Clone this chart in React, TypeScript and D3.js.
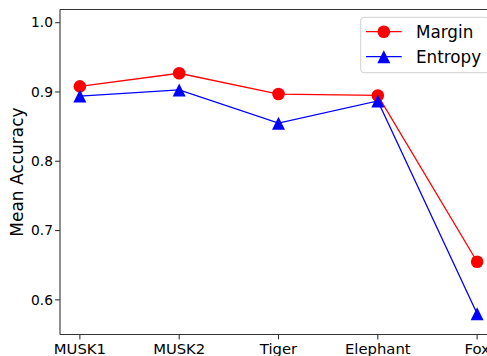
import React from "react";
import * as d3 from "d3";

const categories = ["MUSK1", "MUSK2", "Tiger", "Elephant", "Fox"];
const marginAcc = [0.908, 0.927, 0.897, 0.895, 0.655];
const entropyAcc = [0.894, 0.903, 0.855, 0.887, 0.58];
const yTicks = [0.6, 0.7, 0.8, 0.9, 1.0];

const W = 487;
const H = 356;
const FONT = "DejaVu Sans, sans-serif";

export default function App() {
  const left = 60;
  const top = 9.5;
  const bottom = 334.5;
  var x = d3.scaleLinear().domain([-0.2, 4.2]).range([left, 497]);
  var y = d3.scaleLinear().domain([0.55, 1.019]).range([bottom, top]);

  var line = d3
    .line<number>()
    .x((d, i) => x(i))
    .y((d) => y(d));

  const tri = (cx: number, cy: number, r: number) =>
    `M${cx},${cy - r}L${cx - r},${cy + r}L${cx + r},${cy + r}Z`;

  return (
    <svg
      width={W}
      height={H}
      style={{ position: "fixed", left: 0, top: 0, background: "#fff" }}
      fontFamily={FONT}
    >
      {/* series */}
      <path d={line(marginAcc) || ""} fill="none" stroke="#ff0000" strokeWidth={1.3} />
      <path d={line(entropyAcc) || ""} fill="none" stroke="#0000ff" strokeWidth={1.3} />
      {marginAcc.map((v, i) => (
        <circle key={"m" + i} cx={x(i)} cy={y(v)} r={6.3} fill="#ff0000" />
      ))}
      {entropyAcc.map((v, i) => (
        <path key={"e" + i} d={tri(x(i), y(v), 6.5)} fill="#0000ff" />
      ))}

      {/* spines */}
      <line x1={left} x2={left} y1={top} y2={bottom} stroke="#333" strokeWidth={1.1} />
      <line x1={left} x2={W} y1={bottom} y2={bottom} stroke="#333" strokeWidth={1.1} />
      <line x1={left} x2={W} y1={top} y2={top} stroke="#333" strokeWidth={1.1} />

      {/* y axis */}
      {yTicks.map((t) => (
        <g key={t}>
          <line x1={left - 4.9} x2={left} y1={y(t)} y2={y(t)} stroke="#333" strokeWidth={1.1} />
          <text x={53} y={y(t)} dy="0.35em" textAnchor="end" fontSize={13.8} fill="#000">
            {t.toFixed(1)}
          </text>
        </g>
      ))}
      <text
        transform={`translate(23,${(top + bottom) / 2}) rotate(-90)`}
        textAnchor="middle"
        fontSize={17}
        fill="#000"
      >
        Mean Accuracy
      </text>

      {/* x axis */}
      {categories.map((c, i) => (
        <g key={c}>
          <line x1={x(i)} x2={x(i)} y1={bottom} y2={bottom + 4.9} stroke="#333" strokeWidth={1.1} />
          <text x={x(i)} y={353.5} textAnchor="middle" fontSize={14.8} fill="#000">
            {c}
          </text>
        </g>
      ))}

      {/* legend */}
      <rect x={360.7} y={17.3} width={128} height={55.4} rx={3} fill="#fff" fillOpacity={0.8} stroke="#d0d0d0" strokeWidth={1} />
      <line x1={366} x2={401.7} y1={31.7} y2={31.7} stroke="#ff0000" strokeWidth={1.3} />
      <circle cx={383.8} cy={31.7} r={6.3} fill="#ff0000" />
      <text x={416} y={31.7} dy="0.35em" fontSize={16.8} fill="#000">Margin</text>
      <line x1={366} x2={401.7} y1={56.7} y2={56.7} stroke="#0000ff" strokeWidth={1.3} />
      <path d={tri(383.8, 56.7, 6.5)} fill="#0000ff" />
      <text x={416} y={56.7} dy="0.35em" fontSize={16.8} fill="#000">Entropy</text>
    </svg>
  );
}
